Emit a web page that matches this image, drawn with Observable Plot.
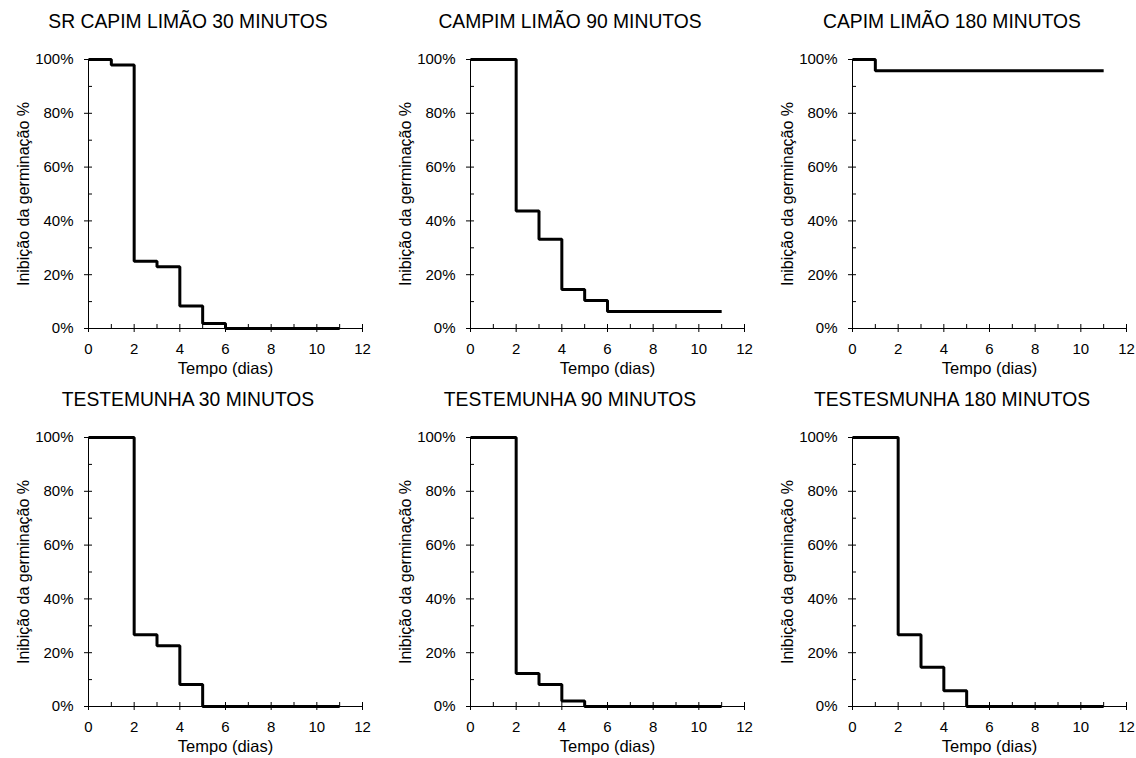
<!DOCTYPE html>
<html><head><meta charset="utf-8">
<script src="https://cdn.jsdelivr.net/npm/d3@7"></script>
<script src="https://cdn.jsdelivr.net/npm/@observablehq/plot@0.6"></script>
<style>
body{margin:0;background:#fff;font-family:"Liberation Sans",Arial,sans-serif;}
#root{position:relative;width:1136px;height:758px;overflow:hidden;background:#fff}
.panel{position:absolute;width:376px}
.title{height:44px;line-height:44px;text-align:center;font-size:19.3px;color:#000;white-space:nowrap}
.panel svg{display:block}
</style></head><body><div id="root"></div>
<script>
// ---- data ----
const days = [0, 1, 2, 3, 4, 5, 6, 7, 8, 9, 10, 11];
const titles = [
  "SR CAPIM LIMÃO 30 MINUTOS",
  "CAMPIM LIMÃO 90 MINUTOS",
  "CAPIM LIMÃO 180 MINUTOS",
  "TESTEMUNHA 30 MINUTOS",
  "TESTEMUNHA 90 MINUTOS",
  "TESTESMUNHA 180 MINUTOS"
];
const srCapim30   = [1.00, 0.98, 0.25, 0.23, 0.084, 0.019, 0, 0, 0, 0, 0, 0];
const capim90     = [1.00, 1.00, 0.437, 0.332, 0.145, 0.104, 0.063, 0.063, 0.063, 0.063, 0.063, 0.063];
const capim180    = [1.00, 0.958, 0.958, 0.958, 0.958, 0.958, 0.958, 0.958, 0.958, 0.958, 0.958, 0.958];
const testemunha30  = [1.00, 1.00, 0.267, 0.226, 0.082, 0, 0, 0, 0, 0, 0, 0];
const testemunha90  = [1.00, 1.00, 0.123, 0.082, 0.02, 0, 0, 0, 0, 0, 0, 0];
const testemunha180 = [1.00, 1.00, 0.267, 0.146, 0.059, 0, 0, 0, 0, 0, 0, 0];
const xMajorTicks = [0, 2, 4, 6, 8, 10, 12];
const xAllTicks = [0, 1, 2, 3, 4, 5, 6, 7, 8, 9, 10, 11, 12];
const yMajorTicks = [0, 0.2, 0.4, 0.6, 0.8, 1.0];
const yAllTicks = [0, 0.1, 0.2, 0.3, 0.4, 0.5, 0.6, 0.7, 0.8, 0.9, 1.0];
const xLabel = "Tempo (dias)";
const yLabel = "Inibição da germinação %";

const series = [srCapim30, capim90, capim180, testemunha30, testemunha90, testemunha180];

// ---- layout ----
const lefts = [0, 382, 764];
const tops = [0, 378];
const W = 373, H = 334, ML = 88, MR = 11, MT = 15, MB = 50;
const frameW = W - ML - MR, frameH = H - MT - MB;
const inTick = 4;
const root = document.getElementById("root");

series.forEach((vals, i) => {
  const data = days.map((d, j) => ({day: d, value: vals[j]}));
  const div = document.createElement("div");
  div.className = "panel";
  div.style.left = lefts[i % 3] + "px";
  div.style.top = tops[Math.floor(i / 3)] + "px";
  const t = document.createElement("div");
  t.className = "title";
  t.textContent = titles[i];
  div.appendChild(t);

  const chart = Plot.plot({
    width: W,
    height: H,
    marginLeft: ML,
    marginRight: MR,
    marginTop: MT,
    marginBottom: MB,
    style: {fontFamily: '"Liberation Sans", Arial, sans-serif', fontSize: "15px", color: "#000", background: "#fff"},
    x: {domain: [0, 12], label: null},
    y: {domain: [0, 1], label: null},
    marks: [
      Plot.axisX(xMajorTicks, {tickSize: 4, tickPadding: 11, label: null, fontSize: 15, stroke: "#000", fill: "#000"}),
      Plot.axisY(yMajorTicks, {tickSize: 4, tickPadding: 11, tickFormat: d3.format(".0%"), label: null, fontSize: 15, stroke: "#000", fill: "#000"}),
      Plot.tickX(xAllTicks, {x: d => d, stroke: "#000", strokeWidth: 1, insetTop: frameH - inTick}),
      Plot.tickY(yAllTicks, {y: d => d, stroke: "#000", strokeWidth: 1, insetRight: frameW - inTick}),
      Plot.ruleX([0], {stroke: "#000", strokeWidth: 1}),
      Plot.ruleY([0], {stroke: "#000", strokeWidth: 1}),
      Plot.line(data, {x: "day", y: "value", curve: "step-after", stroke: "#000", strokeWidth: 3, strokeLinejoin: "miter", strokeLinecap: "butt"}),
      Plot.text([xLabel], {frameAnchor: "bottom", dy: 40, text: d => d, fontSize: 16.5, fill: "#000", lineAnchor: "middle"}),
      Plot.text([yLabel], {frameAnchor: "left", dx: -65, rotate: -90, text: d => d, fontSize: 16, fill: "#000", lineAnchor: "middle", textAnchor: "middle"})
    ]
  });
  div.appendChild(chart);
  root.appendChild(div);
});
</script>
</body></html>
